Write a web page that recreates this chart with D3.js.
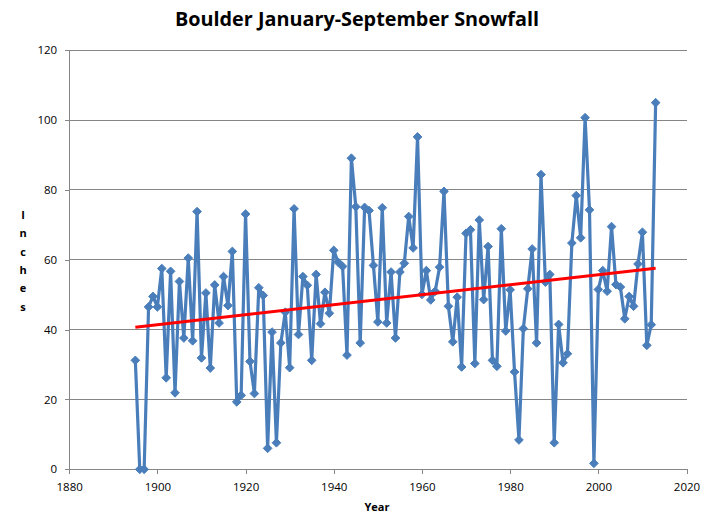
<!DOCTYPE html>
<html><head><meta charset="utf-8">
<script src="https://cdn.jsdelivr.net/npm/d3@7"></script>
<style>body{margin:0;background:#fff}svg{display:block}</style>
</head><body>
<svg id="c" width="711" height="527"></svg>
<script>
const title = "Boulder January-September Snowfall";
const yTicks = [0,20,40,60,80,100,120];
const xTicks = [1880,1900,1920,1940,1960,1980,2000,2020];
const startYear = 1895;
const snowfall = [
 31.2,0,0,46.5,49.5,46.5,57.5,26.2,56.7,21.9,
 53.8,37.6,60.5,36.8,73.8,31.9,50.5,29.0,52.8,41.9,
 55.2,46.9,62.4,19.3,21.2,73.1,30.9,21.7,52.0,49.8,
 6.0,39.3,7.6,36.2,45.0,29.1,74.6,38.6,55.2,52.7,
 31.2,55.8,41.7,50.7,44.7,62.7,59.3,58.1,32.7,89.1,
 75.2,36.2,75.0,74.1,58.4,42.2,74.9,41.9,56.5,37.6,
 56.5,59.0,72.4,63.4,95.2,50.1,56.9,48.5,51.0,57.9,
 79.6,46.7,36.5,49.3,29.3,67.6,68.6,30.3,71.4,48.6,
 63.8,31.2,29.5,68.9,39.6,51.4,27.9,8.4,40.3,51.7,
 63.1,36.2,84.4,53.6,55.8,7.6,41.5,30.5,33.1,64.8,
 78.4,66.3,100.7,74.3,1.7,51.5,56.9,51.0,69.5,52.9,
 52.2,43.1,49.5,46.7,58.8,67.9,35.5,41.4,105.0
];
const data = snowfall.map((v,i)=>({year:startYear+i, value:v}));

const svg = d3.select("#c");
const x = d3.scaleLinear().domain([1880,2020]).range([69.2,686.5]);
const y = d3.scaleLinear().domain([0,120]).range([469.3,50.3]);

// gridlines
svg.append("g").selectAll("line").data(yTicks.filter(d=>d>0)).join("line")
  .attr("x1",x(1880)).attr("x2",x(2020)).attr("y1",d=>y(d)).attr("y2",d=>y(d))
  .attr("stroke","#868686").attr("stroke-width",1).attr("shape-rendering","crispEdges");

// y axis
const ya = svg.append("g").attr("transform",`translate(${x(1880)},0)`)
  .call(d3.axisLeft(y).tickValues(yTicks).tickSize(4).tickSizeOuter(0).tickPadding(8));
// x axis
const xa = svg.append("g").attr("transform",`translate(0,${y(0)})`)
  .call(d3.axisBottom(x).tickValues(xTicks).tickFormat(d3.format("d")).tickSize(5).tickSizeOuter(0).tickPadding(9));
[ya,xa].forEach(a=>{
  a.select(".domain").attr("stroke","#868686").attr("shape-rendering","crispEdges");
  a.selectAll(".tick line").attr("stroke","#868686").attr("shape-rendering","crispEdges");
  a.selectAll("text").attr("font-family","'Open Sans', sans-serif").attr("font-size","11.5px").attr("fill","#000");
});

// series line
svg.append("path").datum(data)
  .attr("d", d3.line().x(d=>x(d.year)).y(d=>y(d.value)))
  .attr("fill","none").attr("stroke","#4a7ebb").attr("stroke-width",3.2).attr("stroke-linejoin","round");

// markers (diamonds)
svg.append("g").selectAll("path").data(data).join("path")
  .attr("d", d3.symbol().type(d3.symbolDiamond2).size(48))
  .attr("transform", d=>`translate(${x(d.year)},${y(d.value)})`)
  .attr("fill","#4a7ebb").attr("stroke","#4a7ebb").attr("stroke-width",1);

// linear trend (least squares)
const n = data.length;
const mx = d3.mean(data,d=>d.year), my = d3.mean(data,d=>d.value);
const slope = d3.sum(data,d=>(d.year-mx)*(d.value-my))/d3.sum(data,d=>(d.year-mx)**2);
const icpt = my - slope*mx;
const y0 = data[0].year, y1 = data[n-1].year;
svg.append("line")
  .attr("x1",x(y0)).attr("y1",y(icpt+slope*y0))
  .attr("x2",x(y1)).attr("y2",y(icpt+slope*y1))
  .attr("stroke","#ff0000").attr("stroke-width",3);

// title
svg.append("text").attr("x",357).attr("y",26).attr("text-anchor","middle")
  .attr("font-family","'Open Sans', sans-serif").attr("font-weight","bold").attr("font-size","19px")
  .attr("textLength",364).attr("lengthAdjust","spacingAndGlyphs").text(title);

// x label
svg.append("text").attr("x",377).attr("y",511).attr("text-anchor","middle")
  .attr("font-family","'Open Sans', sans-serif").attr("font-weight","bold").attr("font-size","11px").text("Year");

// y label stacked letters
const yl = "Inches".split("");
svg.append("g").selectAll("text").data(yl).join("text")
  .attr("x",23).attr("y",(d,i)=>219+i*18.3).attr("text-anchor","middle")
  .attr("font-family","'Open Sans', sans-serif").attr("font-weight","bold").attr("font-size","11px").text(d=>d);
</script>
</body></html>
